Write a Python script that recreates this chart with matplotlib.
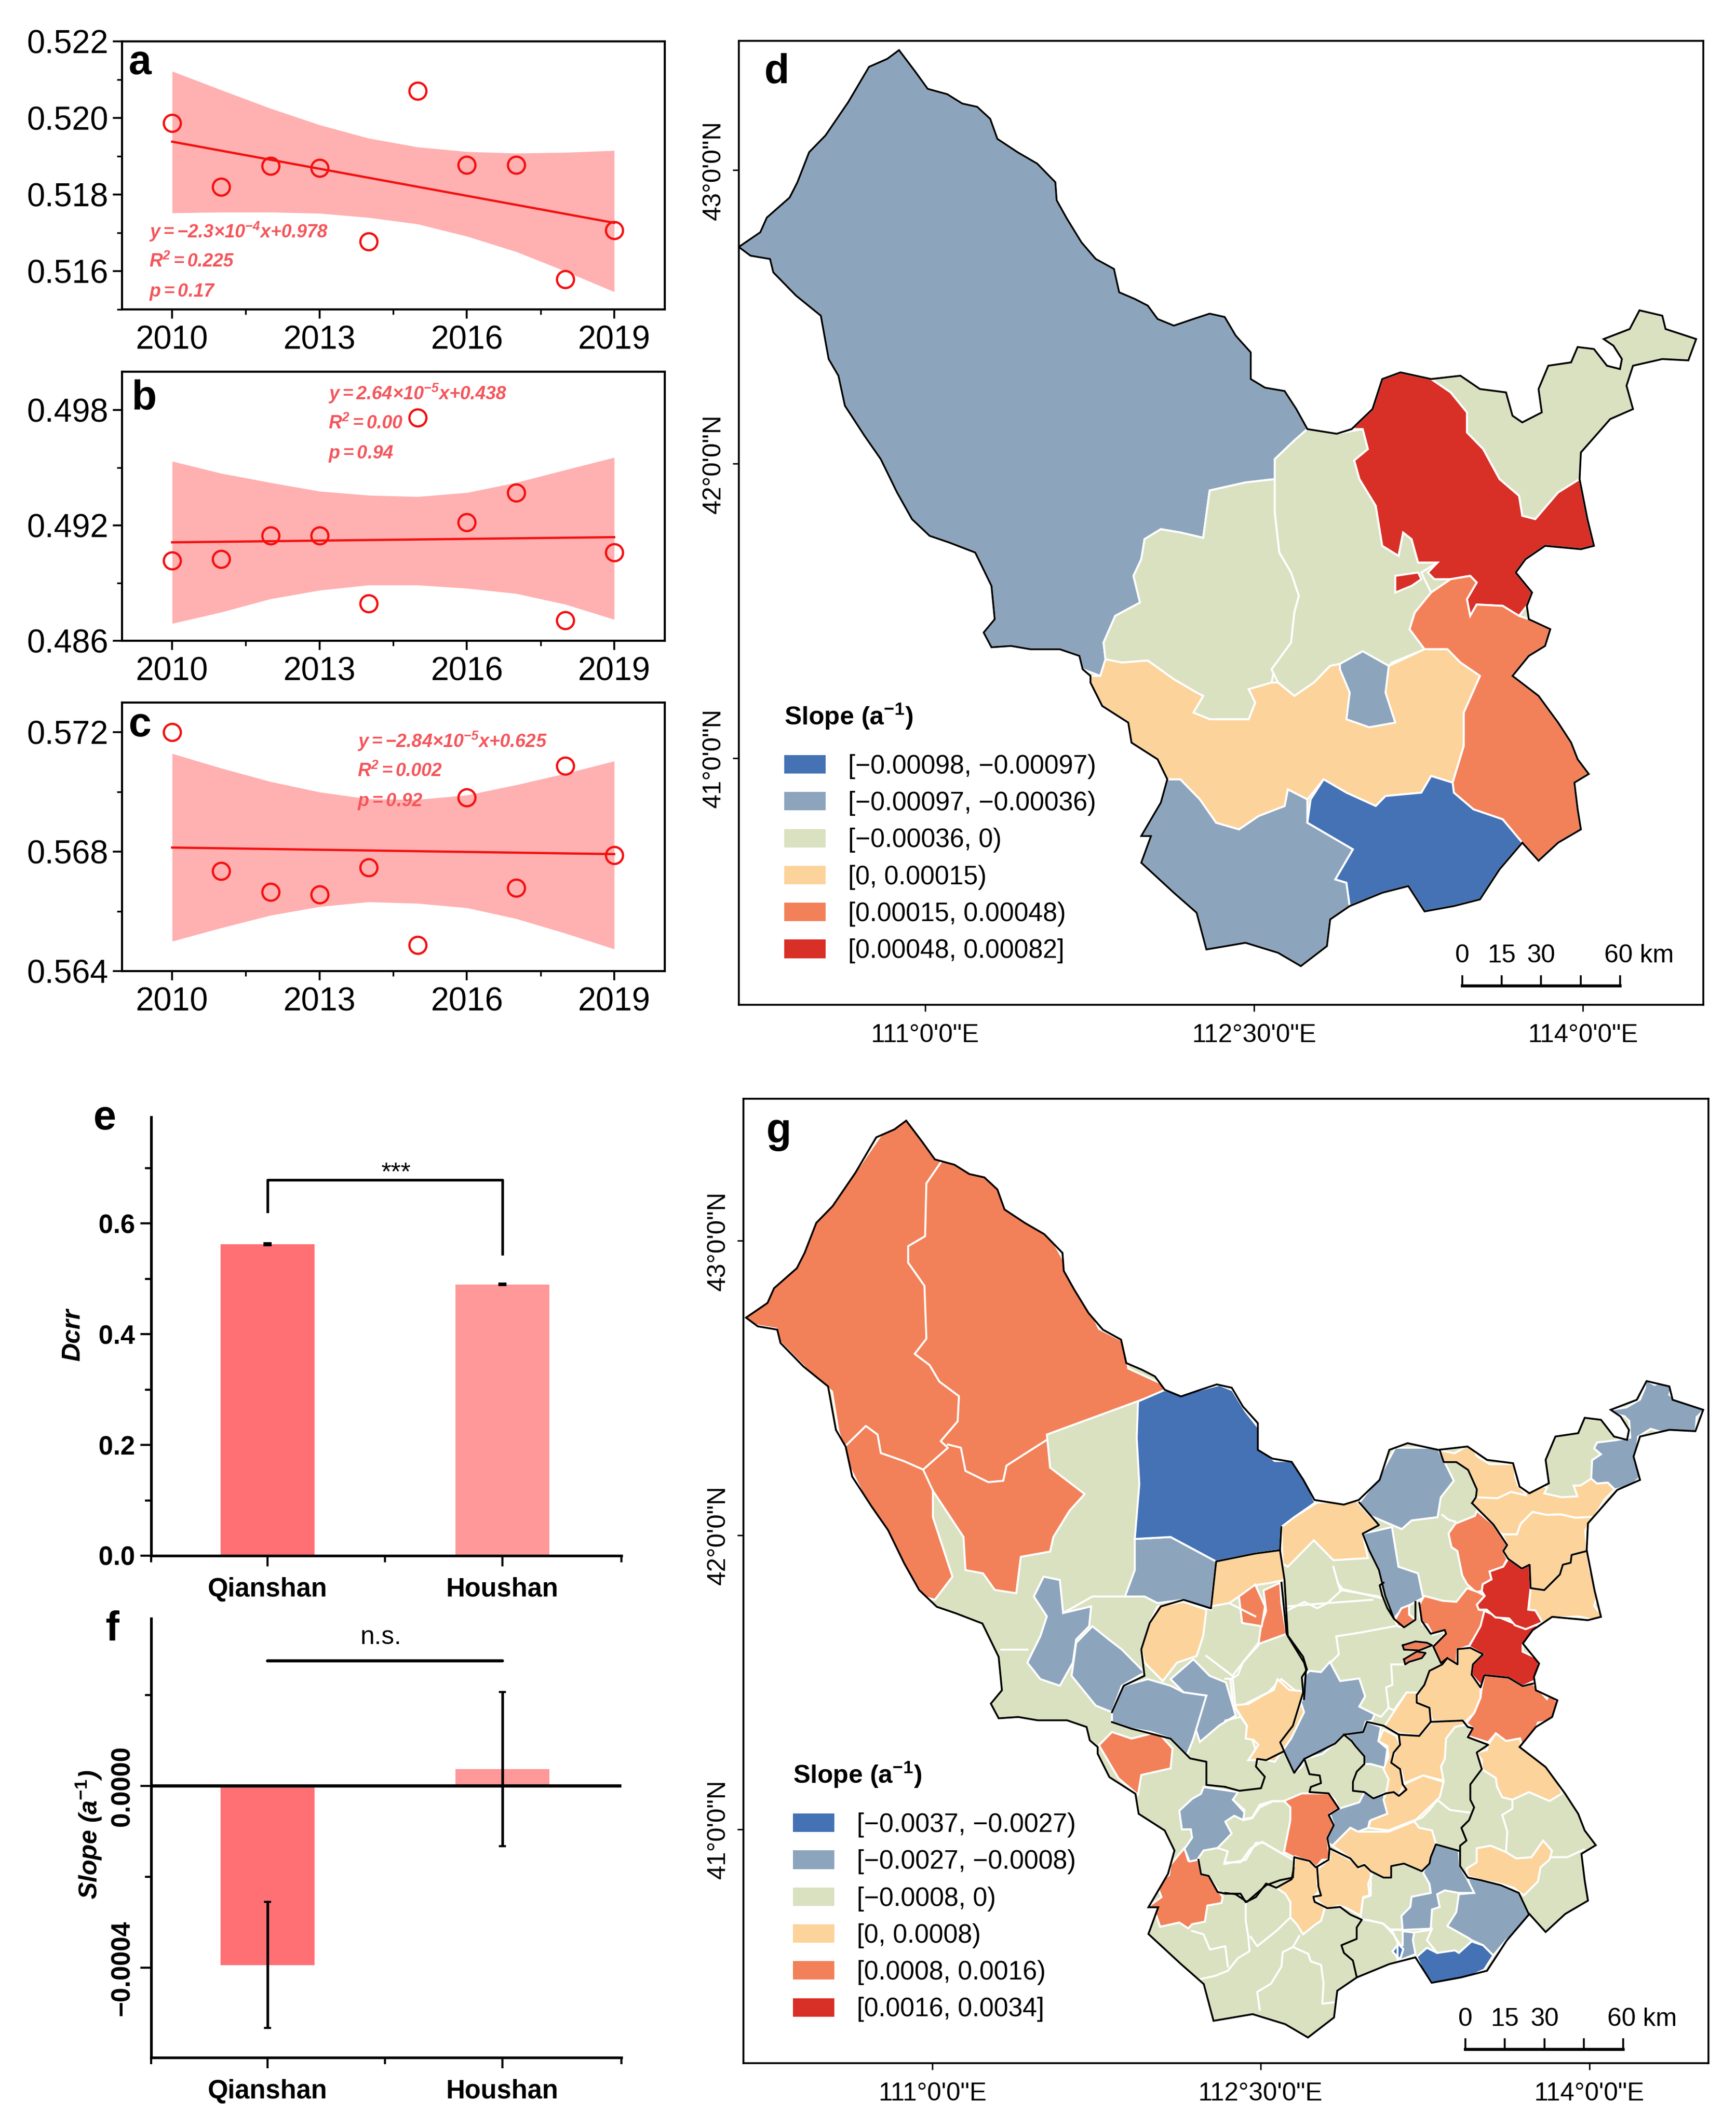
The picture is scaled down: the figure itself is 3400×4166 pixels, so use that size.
import numpy as np
import matplotlib
matplotlib.use("Agg")
import matplotlib.pyplot as plt
from matplotlib.patches import Polygon, Patch
from matplotlib.ticker import FixedFormatter

plt.rcParams.update({
    "font.family": ["Liberation Sans", "DejaVu Sans"],
    "mathtext.fontset": "custom",
    "mathtext.rm": "Liberation Sans",
    "mathtext.it": "Liberation Sans:italic",
    "mathtext.bf": "Liberation Sans:bold",
    "mathtext.bfit": "Liberation Sans:italic:bold",
    "mathtext.fallback": "stixsans",
})

W, H = 3400, 4166
YEARS = np.arange(2010, 2020)

A_PTS = [.51987, .5182, .51875, .5187, .51677, .52071, .51877, .51877, .51579, .51707]
A_FIT = [.51938, .51726]
A_UP = [.52122, .52073, .52025, .51982, .51947, .51924, .51912, .51908, .5191, .51915]
A_LO = [.51752, .51754, .51754, .51751, .5174, .51723, .51691, .51651, .516, .51546]

B_PTS = [.49018, .49025, .49146, .49146, .48794, .49762, .49216, .49371, .48707, .4906]
B_FIT = [.49112, .49139]
B_UP = [.49534, .49471, .49423, .49378, .49357, .4935, .49371, .49423, .49489, .49554]
B_LO = [.4869, .48749, .48818, .48863, .4889, .4889, .48873, .48846, .4879, .48711]

C_PTS = [.572, .56736, .56665, .56656, .56748, .56487, .56982, .56679, .57088, .56788]
C_FIT = [.56814, .56792]
C_UP = [.57129, .5708, .57035, .57, .56977, .56975, .5699, .57024, .57062, .57104]
C_LO = [.565, .56545, .56587, .56616, .56632, .56627, .56612, .56576, .56527, .56474]

A_TXT = [r"$\mathbfit{y{=}{-}2.3{\times}10^{-4}x{+}0.978}$", r"$\mathbfit{R^{2}{=}0.225}$", r"$\mathbfit{p{=}0.17}$"]
B_TXT = [r"$\mathbfit{y{=}2.64{\times}10^{-5}x{+}0.438}$", r"$\mathbfit{R^{2}{=}0.00}$", r"$\mathbfit{p{=}0.94}$"]
C_TXT = [r"$\mathbfit{y{=}{-}2.84{\times}10^{-5}x{+}0.625}$", r"$\mathbfit{R^{2}{=}0.002}$", r"$\mathbfit{p{=}0.92}$"]

GROUPS = ["Qianshan", "Houshan"]
E_VALS = [0.5625, 0.490]
E_ERR = [0.0015, 0.0012]
F_VALS = [-0.000394, 0.000037]
F_ERR = [0.000139, 0.00017]

COL_BLUE, COL_STEEL, COL_GREEN, COL_LO, COL_OR, COL_RED = "#4472B4", "#8CA5BD", "#DAE1C1", "#FCD39B", "#F28159", "#D82F27"
LEG_COLS = [COL_BLUE, COL_STEEL, COL_GREEN, COL_LO, COL_OR, COL_RED]
D_LEG = ["[−0.00098, −0.00097)", "[−0.00097, −0.00036)", "[−0.00036, 0)", "[0, 0.00015)", "[0.00015, 0.00048)", "[0.00048, 0.00082]"]
G_LEG = ["[−0.0037, −0.0027)", "[−0.0027, −0.0008)", "[−0.0008, 0)", "[0, 0.0008)", "[0.0008, 0.0016)", "[0.0016, 0.0034]"]

LON_LABELS = ["111°0'0\"E", "112°30'0\"E", "114°0'0\"E"]
LAT_LABELS = ["43°0'0\"N", "42°0'0\"N", "41°0'0\"N"]
D_LON_T, D_LAT_T = [338, 843, 1348], [217, 657, 1098]
G_LON_T, G_LAT_T = [334, 838, 1343], [232, 677, 1122]
SCALE_KM = [0, 15, 30, 45, 60]

# ---- map geometry, in the map grid units of panel d
OUTLINE = [(298,37),(322,68),(342,95),(372,103),(395,117),(418,122),(438,140),(449,170),(480,190),(510,207),(538,235),(540,262),(556,290),(578,325),(600,350),(628,365),(636,400),(660,410),(680,420),(695,440),(720,450),(750,440),(775,432),(798,437),(815,465),(838,490),(838,530),(860,543),(890,548),(908,575),(925,605),(970,612),(993,605),(1025,575),(1040,530),(1068,520),(1115,530),(1160,525),(1190,545),(1230,550),(1240,585),(1255,595),(1285,580),(1280,545),(1295,510),(1330,505),(1340,482),(1365,485),(1385,510),(1405,515),(1408,500),(1395,480),(1380,470),(1420,455),(1435,427),(1470,435),(1475,455),(1522,470),(1510,502),(1470,500),(1425,510),(1415,540),(1425,575),(1390,590),(1345,640),(1343,680),(1355,740),(1365,780),(1345,785),(1290,780),(1260,800),(1245,820),(1270,850),(1262,870),(1265,890),(1298,905),(1290,930),(1265,945),(1240,975),(1280,1005),(1310,1045),(1330,1075),(1340,1100),(1357,1122),(1335,1135),(1340,1175),(1345,1205),(1310,1225),(1280,1252),(1255,1225),(1220,1265),(1190,1310),(1150,1320),(1105,1328),(1080,1290),(1040,1300),(990,1320),(960,1340),(955,1380),(915,1410),(880,1390),(830,1375),(770,1385),(755,1330),(720,1300),(670,1255),(685,1215),(670,1215),(700,1165),(710,1130),(695,1100),(655,1075),(650,1045),(610,1020),(592,985),(592,975),(580,965),(575,945),(545,935),(500,935),(470,930),(440,932),(428,910),(445,890),(440,840),(415,790),(375,775),(345,765),(318,740),(295,700),(270,650),(245,615),(215,570),(205,525),(190,500),(178,435),(140,405),(105,370),(100,350),(70,345),(52,332),(85,310),(95,288),(130,258),(142,235),(160,190),(185,165),(220,115),(252,62),(280,50)]

D_STEEL = [
 [(298,37),(322,68),(342,95),(372,103),(395,117),(418,122),(438,140),(449,170),(480,190),(510,207),(538,235),(540,262),(556,290),(578,325),(600,350),(628,365),(636,400),(660,410),(680,420),(695,440),(720,450),(750,440),(775,432),(798,437),(815,465),(838,490),(838,530),(860,543),(890,548),(908,575),(925,605),(905,622),(875,650),(875,680),(830,685),(775,697),(765,768),(730,760),(700,755),(675,770),(670,800),(658,825),(668,865),(630,885),(612,925),(615,950),(607,975),(580,965),(575,945),(545,935),(500,935),(470,930),(440,932),(428,910),(445,890),(440,840),(415,790),(375,775),(345,765),(318,740),(295,700),(270,650),(245,615),(215,570),(205,525),(190,500),(178,435),(140,405),(105,370),(100,350),(70,345),(52,332),(85,310),(95,288),(130,258),(142,235),(160,190),(185,165),(220,115),(252,62),(280,50)],
 [(710,1130),(730,1130),(760,1160),(785,1195),(820,1205),(850,1185),(890,1170),(895,1145),(925,1160),(925,1195),(960,1215),(995,1235),(968,1280),(985,1285),(990,1320),(960,1340),(955,1380),(915,1410),(880,1390),(830,1375),(770,1385),(755,1330),(720,1300),(670,1255),(685,1215),(670,1215),(700,1165)],
]
D_GREEN = [
 [(875,680),(830,685),(775,697),(765,768),(730,760),(700,755),(675,770),(670,800),(658,825),(668,865),(630,885),(612,925),(615,950),(640,955),(680,952),(720,980),(755,1000),(765,1005),(750,1030),(775,1040),(835,1040),(845,1015),(835,995),(870,985),(875,960),(900,925),(905,880),(912,855),(900,820),(882,790),(875,730)],
 [(925,605),(970,612),(1010,605),(1018,635),(997,652),(1005,680),(1030,720),(1040,780),(1065,795),(1072,760),(1085,770),(1095,805),(1125,805),(1100,820),(1115,850),(1090,880),(1082,905),(1105,935),(1055,955),(1050,960),(1010,940),(975,957),(960,960),(935,985),(905,1005),(880,985),(870,965),(900,925),(905,880),(912,855),(900,820),(882,790),(875,730),(875,650),(905,622)],
 [(1115,530),(1160,525),(1190,545),(1230,550),(1240,585),(1255,595),(1285,580),(1280,545),(1295,510),(1330,505),(1340,482),(1365,485),(1385,510),(1405,515),(1408,500),(1395,480),(1380,470),(1420,455),(1435,427),(1470,435),(1475,455),(1522,470),(1510,502),(1470,500),(1425,510),(1415,540),(1425,575),(1390,590),(1345,640),(1343,680),(1310,700),(1275,740),(1255,735),(1250,705),(1220,680),(1195,635),(1170,610),(1170,580),(1145,550)],
]
D_RED = [
 [(993,605),(1025,575),(1040,530),(1068,520),(1115,530),(1145,550),(1170,580),(1170,610),(1195,635),(1220,680),(1250,705),(1255,735),(1275,740),(1310,700),(1343,680),(1355,740),(1365,780),(1345,785),(1290,780),(1260,800),(1245,820),(1270,850),(1262,870),(1250,885),(1225,870),(1185,868),(1175,885),(1170,860),(1185,835),(1175,825),(1145,830),(1120,830),(1110,820),(1125,805),(1095,805),(1085,770),(1072,760),(1065,795),(1040,780),(1030,720),(1005,680),(997,652),(1018,635),(1010,605)],
 [(1060,825),(1095,820),(1100,830),(1085,840),(1060,850)],
]
D_OR = [[(1145,830),(1175,825),(1185,835),(1170,860),(1175,885),(1185,868),(1225,870),(1250,885),(1265,890),(1298,905),(1290,930),(1265,945),(1240,975),(1280,1005),(1310,1045),(1330,1075),(1340,1100),(1357,1122),(1335,1135),(1340,1175),(1345,1205),(1310,1225),(1280,1252),(1255,1225),(1225,1190),(1180,1175),(1150,1150),(1148,1135),(1165,1080),(1165,1030),(1190,975),(1160,955),(1140,935),(1105,935),(1082,905),(1090,880),(1115,850)]]
D_LO = [[(592,975),(607,975),(615,950),(640,955),(680,952),(720,980),(755,1000),(765,1005),(750,1030),(775,1040),(835,1040),(845,1015),(835,995),(870,985),(880,985),(905,1005),(935,985),(960,960),(975,957),(1010,940),(1050,960),(1105,935),(1140,935),(1160,955),(1190,975),(1165,1030),(1165,1080),(1148,1135),(1115,1125),(1100,1150),(1045,1155),(1030,1170),(985,1150),(950,1130),(925,1160),(895,1145),(890,1170),(850,1185),(820,1205),(785,1195),(760,1160),(730,1130),(710,1130),(695,1100),(655,1075),(650,1045),(610,1020),(592,985)]]
D_STEEL2 = [[(975,957),(1010,938),(1050,960),(1045,1000),(1060,1045),(1020,1052),(985,1040),(990,1000),(975,965)]]
D_BLUE = [[(950,1130),(985,1150),(1030,1170),(1045,1155),(1100,1150),(1115,1125),(1148,1135),(1150,1150),(1180,1175),(1225,1190),(1255,1225),(1220,1265),(1190,1310),(1150,1320),(1105,1328),(1080,1290),(1040,1300),(990,1320),(985,1285),(968,1280),(995,1235),(960,1215),(925,1195),(930,1160)]]

# ---- panel g polygons. Each tracing sheet has its own origin and scale on the map grid of panel g.
S3 = lambda p: [(x, y) for x, y in p]
S5 = lambda p: [(784 + x*.392, 749.2 + y*.3862) for x, y in p]
S6 = lambda p: [(548.8 + x*.392, 1058.2 + y*.2562) for x, y in p]
S7 = lambda p: [(1081.9 + x*.3, 424.8 + y*.2956) for x, y in p]

G_OR_3 = [
 [(40,350),(90,300),(130,265),(150,210),(185,170),(225,115),(260,65),(296,40),(330,85),(345,100),(385,115),(420,125),(440,150),(450,180),(480,205),(515,225),(535,260),(560,300),(590,365),(630,385),(635,425),(690,450),(690,460),(510,525),(515,575),(568,615),(545,640),(520,680),(515,702),(470,710),(463,765),(430,760),(412,735),(385,730),(382,680),(335,610),(335,650),(365,740),(338,775),(320,770),(290,720),(265,670),(230,620),(205,570),(190,520),(180,460),(140,425),(100,385),(95,365),(65,360)],
 [(805,770),(830,752),(845,785),(840,815),(810,810)],
 [(590,995),(610,975),(640,985),(680,975),(703,1000),(700,1030),(655,1040),(650,1070),(620,1045)],
]
G_OR_5 = [
 [(665,145),(690,100),(720,88),(720,125),(745,145),(700,175),(675,170)],
 [(695,245),(745,230),(790,235),(810,245),(760,265),(700,262)],
 [(700,300),(750,270),(785,275),(770,295),(720,310),(705,320)],
 [(1015,362),(1110,372),(1165,405),(1205,395),(1260,455),(1270,435),(1305,470),(1290,540),(1225,548),(1200,620),(1160,632),(1155,610),(1100,620),(1060,590),(1030,625),(950,600),(970,570),(945,550),(975,510),(1000,450),(1005,410)],
 [(230,855),(300,825),(405,825),(430,850),(445,885),(405,910),(425,950),(400,1000),(408,1060),(405,1085),(380,1085),(355,1115),(330,1090),(270,1075),(230,1055),(255,930),(255,880)],
 [(150,30),(215,0),(220,80),(240,200),(130,240),(140,170),(160,110)],
]
G_OR_6 = [[(440,360),(455,435),(495,430),(505,515),(535,525),(590,650),(585,685),(530,700),(520,795),(470,810),(455,835),(420,800),(345,825),(330,760),(295,710),(350,650),(330,570),(380,520),(385,460)]]
G_OR_7 = [
 [(295,730),(380,800),(450,905),(430,935),(450,975),(430,1015),(360,1040),(370,1080),(325,1105),(320,1140),(290,1145),(245,1105),(220,1060),(195,935),(165,915),(150,845),(185,795),(285,755)],
 [(0,1210),(25,1165),(120,1190),(190,1195),(245,1125),(300,1145),(335,1165),(295,1210),(305,1235),(335,1240),(330,1300),(255,1420),(195,1440),(190,1520),(150,1485),(110,1510),(70,1420),(130,1360),(130,1345),(70,1365),(40,1310),(15,1310),(0,1260)],
]
G_BLUE_3 = [[(650,475),(690,458),(735,460),(775,450),(795,458),(815,490),(835,515),(835,545),(860,565),(890,565),(905,590),(922,628),(890,650),(870,665),(868,700),(830,705),(800,718),(770,717),(700,680),(645,683),(652,600),(648,530)]]
G_BLUE_5 = [
 [(655,1445),(678,1415),(697,1435),(685,1475)],
 [(750,1465),(790,1430),(830,1450),(900,1440),(915,1450),(965,1405),(1010,1420),(1050,1460),(1015,1515),(940,1550),(810,1568),(770,1510)],
]
G_STEEL_3 = [
 [(645,683),(700,680),(770,717),(762,790),(720,775),(680,780),(660,770),(630,770),(645,730)],
 [(505,740),(530,745),(535,795),(578,785),(575,815),(555,835),(550,870),(530,905),(500,895),(480,870),(500,830),(510,800),(490,770)],
 [(580,815),(605,835),(625,850),(660,885),(625,905),(610,945),(585,935),(548,890),(555,840)],
 [(735,865),(760,890),(785,900),(800,950),(775,965),(745,990),(735,960),(755,920),(720,915),(700,895)],
 [(610,945),(628,905),(665,895),(700,905),(720,915),(755,920),(735,985),(725,1010),(700,985),(670,975),(640,970),(610,960)],
 [(1045,545),(1110,545),(1135,595),(1115,620),(1110,650),(1070,655),(1055,668),(1000,645),(990,628),(1020,590)],
 [(995,675),(1040,665),(1050,725),(1080,735),(1088,772),(1076,778),(1055,790),(1043,803),(1030,770),(1020,730),(1005,700)],
]
G_STEEL_5 = [
 [(215,625),(265,560),(300,460),(305,370),(330,345),(375,350),(410,310),(450,385),(525,375),(548,445),(525,485),(585,515),(575,540),(550,545),(540,585),(465,595),(430,630),(380,670),(315,690),(300,720),(270,745),(235,670)],
 [(470,595),(540,585),(555,545),(610,565),(600,620),(635,650),(625,725),(570,710),(545,710),(545,680),(510,640),(495,620)],
 [(405,1020),(400,1000),(425,950),(410,905),(445,885),(525,860),(545,820),(580,845),(620,825),(635,905),(565,935),(560,960),(520,975),(490,960),(420,1030)],
 [(945,1155),(1000,1165),(1080,1185),(1150,1215),(1190,1300),(1180,1345),(1100,1400),(1050,1460),(1010,1420),(965,1400),(950,1390),(870,1345),(905,1290),(915,1220),(970,1215),(950,1160)],
 [(775,1135),(825,1025),(915,1050),(920,1110),(945,1155),(975,1215),(915,1215),(860,1205),(830,1220),(840,1270),(810,1280),(805,1355),(695,1360),(690,1305),(725,1270),(730,1230),(805,1215),(800,1180)],
 [(695,1365),(740,1370),(735,1400),(745,1455),(680,1480),(660,1445),(695,1420)],
]
G_STEEL_6 = [[(515,0),(650,30),(630,75),(675,150),(670,195),(635,170),(600,205),(625,275),(570,360),(515,375),(490,430),(460,440),(440,365),(470,300),(465,250),(430,250),(420,140),(470,70),(505,40)]]
G_STEEL_7 = [[(1160,60),(1205,85),(1245,68),(1295,90),(1280,135),(1320,165),(1380,170),(1460,212),(1420,250),(1415,320),(1385,330),(1300,320),(1270,335),(1185,310),(1120,350),(1115,420),(1105,480),(1138,550),(1080,605),(1000,620),(965,585),(910,590),(880,565),(885,470),(930,440),(895,410),(910,380),(1005,368),(1080,355),(1075,270),(1050,245),(985,230),(985,212),(1060,200),(1130,160),(1155,100)]]
G_LO_3 = [
 [(770,717),(830,705),(868,700),(875,745),(850,750),(835,752),(805,770),(790,780),(762,785)],
 [(680,785),(720,778),(755,790),(750,830),(740,860),(710,870),(688,898),(660,870),(655,850),(668,810)],
 [(870,665),(890,650),(925,628),(985,625),(1020,662),(995,675),(1003,712),(950,715),(920,685),(880,725),(872,720)],
]
G_LO_5 = [
 [(910,260),(960,255),(1010,280),(970,320),(965,360),(1000,410),(1000,450),(975,510),(940,545),(875,545),(810,540),(800,490),(750,470),(750,440),(780,400),(800,345),(850,320),(870,295),(910,320)],
 [(1030,635),(1060,590),(1100,620),(1155,610),(1160,635),(1215,680),(1295,760),(1320,825),(1270,855),(1190,820),(1125,850),(1085,840),(1065,800),(1060,765),(1005,730),(1005,695),(985,665),(1025,655)],
 [(625,560),(710,430),(755,430),(750,470),(800,490),(805,545),(760,600),(680,590),(625,565)],
 [(680,590),(760,600),(810,545),(930,540),(970,570),(945,555),(900,565),(865,610),(860,690),(845,720),(855,775),(775,755),(700,785),(690,735),(650,705),(665,660),(685,635)],
 [(620,575),(670,600),(685,635),(660,665),(650,705),(685,730),(695,790),(710,810),(680,835),(660,820),(630,825),(640,770),(620,730),(640,680),(635,640),(600,620)],
 [(630,825),(660,820),(680,835),(700,790),(775,755),(855,780),(840,840),(800,890),(770,920),(715,940),(640,970),(560,960),(570,930),(635,905),(620,850)],
 [(420,1030),(490,960),(520,975),(640,975),(715,945),(740,935),(760,960),(810,970),(825,1020),(805,1075),(800,1100),(770,1130),(700,1100),(650,1110),(650,1155),(620,1155),(570,1130),(545,1105),(520,1115),(490,1080)],
 [(35,480),(90,475),(150,440),(190,420),(205,378),(250,420),(305,425),(290,490),(265,560),(215,625),(230,660),(160,695),(90,695),(130,635),(110,615),(80,610),(85,560)],
 [(945,1120),(985,1095),(985,1040),(1040,1030),(1100,1055),(1140,1080),(1200,1075),(1245,1010),(1280,1050),(1270,1085),(1235,1115),(1225,1170),(1170,1225),(1130,1195),(1080,1180),(1000,1165),(950,1150)],
]
G_LO_6 = [
 [(875,410),(935,445),(960,475),(965,620),(945,650),(990,715),(975,790),(950,815),(905,870),(880,810),(855,770),(855,680),(835,630),(800,595),(860,545),(868,480)],
 [(965,480),(1010,425),(1005,360),(1100,440),(1125,480),(1145,455),(1175,515),(1160,570),(1165,640),(1140,650),(1130,760),(1075,715),(1045,700),(1000,720),(945,650),(970,630),(960,560)],
]
G_LO_7 = [
 [(105,420),(180,435),(245,398),(275,405),(295,450),(360,490),(490,490),(490,550),(505,600),(545,640),(600,597),(655,610),(640,640),(730,660),(810,655),(790,600),(825,600),(880,565),(910,590),(965,585),(1000,620),(950,670),(895,760),(800,765),(725,748),(650,750),(580,735),(520,795),(500,850),(425,850),(400,830),(380,800),(270,690),(290,660),(295,620),(250,520),(190,480),(125,480)],
 [(425,850),(500,850),(520,795),(580,735),(650,750),(725,748),(800,765),(895,760),(850,830),(858,935),(780,955),(775,995),(735,1005),(720,1055),(640,1135),(570,1125),(565,1005),(525,1025),(455,975),(430,935),(450,905)],
 [(858,935),(875,1040),(905,1090),(895,1130),(912,1165),(895,1215),(935,1265),(905,1290),(815,1270),(720,1275),(630,1300),(595,1240),(560,1235),(570,1125),(640,1135),(720,1055),(735,1005),(775,995),(780,955)],
]
G_RED_5 = [[(1015,110),(1060,130),(1180,180),(1240,150),(1165,240),(1165,270),(1230,300),(1220,380),(1165,405),(1110,372),(1015,362),(1005,405),(965,360),(970,320),(1010,280),(955,250),(1000,170)]]
G_RED_7 = [[(455,975),(525,1025),(565,1005),(570,1125),(558,1235),(595,1240),(630,1300),(545,1335),(490,1315),(460,1280),(390,1275),(345,1235),(305,1235),(295,1210),(335,1165),(320,1140),(325,1105),(370,1080),(360,1040),(430,1015)]]
G_LO_3B = [[(870,895),(895,915),(905,945),(885,985),(860,1020),(835,1015),(820,970),(800,940),(850,915)]]

# green-to-green and orange-to-orange boundaries
G_WHITE_3 = [
 [(348,112),(325,145),(323,225),(297,240),(297,265),(322,300),(325,380),(307,403),(330,420),(345,445),(375,467),(373,505),(347,535),(358,545),(320,578),(290,565),(255,553),(250,525),(232,512),(200,543)],
 [(358,540),(378,545),(385,580),(420,597),(443,595),(448,572),(510,533)],
 [(320,578),(335,610)],
 [(630,770),(580,770),(535,795)], [(440,850),(480,850)], [(790,780),(830,800)],
 [(755,860),(795,890),(835,840)], [(795,890),(800,940)],
 [(950,725),(960,760),(1020,770)], [(880,785),(940,780),(1010,775)],
]
G_WHITE_5 = [
 [(240,110),(310,75),(360,100),(400,80),(460,25),(610,60)], [(460,25),(440,0)],
 [(435,210),(530,195),(665,170)], [(435,210),(445,280),(415,310)],
 [(650,320),(695,320)], [(650,320),(655,400),(630,410),(640,490),(610,525),(585,515)], [(640,490),(660,500),(710,430)],
 [(130,245),(70,310),(50,360),(20,380),(30,470)], [(20,375),(0,375)], [(0,540),(60,525),(85,560)],
 [(1125,850),(1125,885),(1085,910),(1105,975),(1100,1050)], [(1280,1075),(1340,1075),(1405,1045)],
 [(830,850),(880,890),(955,900)], [(745,930),(830,850)],
 [(0,1095),(60,1095),(100,1040),(145,1015),(230,1065)], [(225,855),(185,855),(135,870),(105,920),(75,925)], [(30,850),(75,890)],
 [(570,1130),(570,1225),(540,1235),(530,1310)],
 [(555,1320),(620,1335),(660,1380),(690,1425)], [(650,1360),(695,1360)], [(810,1355),(790,1400),(830,1450)], [(800,1360),(740,1370)],
]
G_WHITE_6 = [
 [(680,680),(680,790),(690,880),(695,970),(650,1010),(610,1085),(560,1115),(500,1135)],
 [(855,770),(800,850),(725,940),(700,885)],
 [(470,850),(515,870),(540,960),(600,940),(610,1060)],
 [(890,880),(865,945),(825,975),(820,1060),(780,1160),(725,1210),(735,1315)],
 [(865,945),(925,985),(935,1030),(975,1050),(985,1160),(980,1280),(1035,1270)],
 [(1135,780),(1215,805),(1255,850),(1275,920),(1275,1030)], [(1250,840),(1290,840)],
 [(830,85),(785,85),(735,120),(705,185),(670,195)],
 [(570,360),(610,380),(595,455),(680,430),(720,330),(750,330),(865,430)],
]
G_WHITE_7 = [[(290,660),(400,665),(470,632),(545,650)], [(118,750),(150,775),(185,785)]]
G_BLACK_3 = [
 [(870,665),(868,700),(875,745),(880,830),(905,870),(908,880),(905,925)],
 [(610,945),(628,905),(660,890),(655,850),(668,810),(685,785),(720,775),(762,788),(770,717),(830,705),(868,700)],
 [(610,960),(640,970),(700,985),(730,1015),(755,1020),(755,1055),(784,1058)],
 [(990,628),(1020,662),(995,675),(1005,700),(1020,730),(1030,770),(1043,803)],
]
G_BLACK_5 = [
 [(220,0),(240,200),(305,290),(320,340),(300,370),(305,430),(265,560),(215,625),(235,670),(270,745),(310,690),(430,630),(465,595),(540,585),(555,545),(620,560),(680,595),(760,600),(805,545),(930,540),(950,565),(970,570),(950,605),(1030,635),(985,665),(1005,730),(960,790),(960,850),(975,880),(955,930),(925,960),(945,1010),(920,1030),(920,1110),(950,1155),(1000,1165),(1080,1185),(1150,1215),(1190,1300)],
 [(805,545),(800,490),(750,470),(750,440),(780,400),(800,345),(850,320),(870,295),(910,320),(910,260),(960,255),(1010,280),(970,320),(965,360),(1000,410),(1015,362),(1110,372),(1165,405),(1205,395)],
 [(660,140),(635,100),(615,50),(605,10),(620,0)], [(745,75),(745,145),(700,175),(665,145)],
 [(760,80),(770,150),(805,200),(860,185),(865,200),(815,250),(845,315),(870,295)],
 [(695,245),(745,230),(790,235),(810,245),(760,265),(700,262),(695,245)], [(700,300),(750,270),(785,275),(770,295),(720,310),(705,320),(700,300)],
 [(680,595),(685,635),(660,665),(650,705),(685,730),(695,790),(710,810),(680,835),(660,820),(630,825),(580,845),(545,820),(500,815),(500,780),(515,740),(545,710),(545,680),(510,640),(495,620),(465,595)],
 [(310,690),(330,750),(370,755),(375,785),(335,800),(330,820),(405,825),(445,885),(405,910),(425,950),(400,1000),(408,1040),(490,1080),(520,1115),(545,1105),(570,1130),(620,1155),(650,1155),(650,1110),(700,1100),(770,1130),(800,1100),(805,1075),(825,1025),(915,1050)],
 [(408,1040),(405,1085),(355,1115),(330,1090),(270,1075),(265,1155),(215,1165),(160,1185),(125,1215),(85,1250),(40,1220),(0,1215)],
 [(0,800),(55,815),(140,805),(155,760),(120,720),(125,690),(160,695),(230,660)],
 [(360,1115),(365,1190),(375,1225),(345,1230),(350,1250),(400,1275),(450,1270),(490,1300),(535,1320),(515,1350),(515,1395),(455,1420),(465,1450),(500,1480),(515,1545)],
]
G_BLACK_6 = [[(868,480),(860,545),(800,595),(760,570),(720,650),(680,680),(660,630),(600,630),(570,620),(535,525),(505,515),(495,430)]]
G_BLACK_7 = [
 [(270,690),(290,660),(295,620),(250,520),(190,480),(125,480),(105,420)],
 [(270,690),(380,800),(450,905),(430,935),(455,975),(525,1025),(565,1005),(570,1125),(640,1135),(720,1055),(735,1005),(775,995),(780,955),(858,935)],
]

fig = plt.figure(figsize=(W/100, H/100), dpi=100)


def axpx(x0, x1, y0, y1):
    return fig.add_axes([x0/W, 1-y1/H, (x1-x0)/W, (y1-y0)/H])


SCAT = [("a", 81, 606, A_PTS, A_FIT, A_UP, A_LO, A_TXT, (.012, .918), (.05, [.289, .177, .065]), (0.515, 0.522), [.516, .518, .52, .522], [.515, .517, .519, .521]),
        ("b", 728, 1255, B_PTS, B_FIT, B_UP, B_LO, B_TXT, (.018, .90), (.38, [.918, .807, .695]), (0.486, 0.5), [.486, .492, .498], [.489, .495]),
        ("c", 1376, 1902, C_PTS, C_FIT, C_UP, C_LO, C_TXT, (.012, .915), (.434, [.856, .744, .632]), (0.564, 0.573), [.564, .568, .572], [.566, .57])]
for lab, t, b, pts, fit, up, lo, txt, lpos, tpos, ylim, yt, ymt in SCAT:
    ax = axpx(239, 1302, t, b)
    ax.fill_between(YEARS, lo, up, color="#FFB0B1", lw=0)
    ax.plot([YEARS[0], YEARS[-1]], fit, color="#F41010", lw=3.2)
    ax.plot(YEARS, pts, "o", mfc="none", mec="#F41010", mew=3.2, ms=24, clip_on=False, zorder=5)
    ax.set_xlim(2008.98, 2020.03)
    ax.set_ylim(*ylim)
    ax.set_xticks([2010, 2013, 2016, 2019])
    ax.set_xticks([2011.5, 2014.5, 2017.5], minor=True)
    ax.set_yticks(yt)
    ax.yaxis.set_major_formatter(FixedFormatter([f"{v:.3f}" for v in yt]))
    ax.set_yticks(ymt, minor=True)
    ax.tick_params(which="major", length=13, width=2.6, labelsize=46, pad=6)
    ax.tick_params(axis="x", which="major", pad=9)
    ax.tick_params(which="minor", length=7, width=2.4)
    for s in ax.spines.values():
        s.set_linewidth(3)
    ax.text(lpos[0], lpos[1], lab, transform=ax.transAxes, fontsize=58, fontweight="bold", va="center")
    for s, y in zip(txt, tpos[1]):
        ax.text(tpos[0], y, s, transform=ax.transAxes, fontsize=26, color="#F4555A", va="center")

# ---- panel e
axe = axpx(296, 1217, 2188, 3047)
axe.bar([1, 2], E_VALS, width=0.4, color=["#FF7074", "#FF9898"])
axe.errorbar([1, 2], E_VALS, yerr=E_ERR, fmt="none", ecolor="k", elinewidth=3, capsize=6, capthick=3)
axe.plot([1, 1, 2, 2], [.6215, .679, .679, .545], color="k", lw=3.8)
axe.text(1.546, .69, "***", ha="center", va="center", fontsize=36)
axe.set_xlim(0.505, 2.506)
axe.set_ylim(0, 0.792)
axe.set_yticks([0, .2, .4, .6])
axe.yaxis.set_major_formatter(FixedFormatter(["0.0", "0.2", "0.4", "0.6"]))
axe.set_yticks([.1, .3, .5, .7], minor=True)

# ---- panel f
axf = axpx(296, 1217, 3170, 4030)
axf.bar([1, 2], F_VALS, width=0.4, color=["#FF7074", "#FF9898"])
axf.errorbar([1, 2], F_VALS, yerr=F_ERR, fmt="none", ecolor="k", elinewidth=3.8, capsize=5, capthick=3)
axf.axhline(0, color="k", lw=4.6)
axf.plot([1, 2], [.000276, .000276], color="k", lw=4.4, solid_capstyle="round")
axf.text(1.483, .000327, "n.s.", ha="center", va="center", fontsize=36)
axf.set_xlim(0.505, 2.506)
axf.set_ylim(-.000598, .000369)
axf.set_yticks([-.0004, 0])
axf.yaxis.set_major_formatter(FixedFormatter(["−0.0004", "0.0000"]))
axf.set_yticks([-.0002, .0002], minor=True)
for lab in axf.get_yticklabels():
    lab.set_rotation(90)
    lab.set_va("center")

for ax in (axe, axf):
    ax.spines["top"].set_visible(False)
    ax.spines["right"].set_visible(False)
    ax.spines["left"].set_linewidth(3.8)
    ax.spines["bottom"].set_linewidth(3.8)
    ax.set_xticks([1, 2])
    ax.set_xticklabels(GROUPS)
    ax.set_xticks([0.505, 1.5, 2.506], minor=True)
    ax.tick_params(which="major", length=15, width=3, labelsize=37, pad=8)
    ax.tick_params(axis="x", which="major", pad=15)
    ax.tick_params(which="minor", length=9, width=3)
    for lab in ax.get_xticklabels() + ax.get_yticklabels():
        lab.set_fontweight("bold")

fig.text(205/W, 1-2191/H, "e", fontsize=58, fontweight="bold", ha="center", va="center")
fig.text(220/W, 1-3192/H, "f", fontsize=58, fontweight="bold", ha="center", va="center")
fig.text(143/W, 1-2615/H, "Dcrr", fontsize=36, fontweight="bold", style="italic", rotation=90, ha="center", va="center")
fig.text(174/W, 1-3593/H, r"Slope (a$\mathbf{^{-1}}$)", fontsize=36, fontweight="bold", style="italic", rotation=90, ha="center", va="center")


# ---- maps
def draw_map(ax, outline, layers, xlim, ylim, xt, yt, leg, leg_xy, lab_xy, lab, bar_x0, bar_y):
    ax.set_xlim(*xlim)
    ax.set_ylim(*ylim)
    clip = Polygon(outline, closed=True, fc=COL_GREEN, ec="none", zorder=1)
    ax.add_patch(clip)
    for color, polys in layers:
        for p in polys:
            pg = Polygon(p, closed=True, fc=color, ec="white", lw=2.8, zorder=2)
            ax.add_patch(pg)
            pg.set_clip_path(clip)
    ax.add_patch(Polygon(outline, closed=True, fc="none", ec="k", lw=2.6, zorder=6))
    ax.set_xticks(xt)
    ax.set_xticklabels(LON_LABELS)
    ax.set_yticks(yt)
    ax.set_yticklabels(LAT_LABELS, rotation=90, va="center")
    ax.tick_params(length=9, width=2, labelsize=36, pad=10)
    ax.tick_params(axis="x", pad=18)
    for s in ax.spines.values():
        s.set_linewidth(2.6)
    ax.text(lab_xy[0], lab_xy[1], lab, fontsize=58, fontweight="bold", ha="center", va="center")
    handles = [Patch(fc=c, ec="none", label=l) for c, l in zip(LEG_COLS, leg)]
    lg = ax.legend(handles=handles, loc="upper left", bbox_to_anchor=leg_xy, bbox_transform=ax.transData,
                   frameon=False, borderpad=0, borderaxespad=0, fontsize=36.5, handlelength=1.6, handleheight=0.72,
                   handletextpad=0.86, labelspacing=0.46, title=r"Slope (a$\mathbf{^{-1}}$)", alignment="left",
                   title_fontproperties={"weight": "bold", "size": 36})
    lg.set_zorder(8)
    lg._legend_box.sep = 32
    km = np.array(SCALE_KM)
    unit = 242/60
    xs = bar_x0 + km*unit
    ax.plot([xs[0], xs[-1]], [bar_y, bar_y], color="k", lw=4.2, zorder=7)
    for x in xs:
        ax.plot([x, x], [bar_y-15, bar_y], color="k", lw=2.6, zorder=7)
    for v, x in zip(SCALE_KM[:3], xs[:3]):
        ax.text(x, bar_y-28, str(v), fontsize=36, ha="center", va="bottom")
    ax.text(xs[4]-24, bar_y-28, "60 km", fontsize=36, ha="left", va="bottom")


axd = axpx(1447, 3336, 80, 1968)
draw_map(axd, OUTLINE,
         [(COL_STEEL, D_STEEL), (COL_GREEN, D_GREEN), (COL_RED, D_RED), (COL_OR, D_OR), (COL_LO, D_LO),
          (COL_STEEL, D_STEEL2), (COL_BLUE, D_BLUE)],
         (52, 1533), (1468, 23), D_LON_T, D_LAT_T, D_LEG, (122, 1014), (110, 70), "d", 1163, 1440)

OUTLINE_G = [(x-4, (y-217)*1.0102+232) for x, y in OUTLINE]
layers_g = [
    (COL_OR, [S3(p) for p in G_OR_3] + [S5(p) for p in G_OR_5] + [S6(p) for p in G_OR_6] + [S7(p) for p in G_OR_7]),
    (COL_STEEL, [S3(p) for p in G_STEEL_3] + [S5(p) for p in G_STEEL_5] + [S6(p) for p in G_STEEL_6] + [S7(p) for p in G_STEEL_7]),
    (COL_BLUE, [S3(p) for p in G_BLUE_3] + [S5(p) for p in G_BLUE_5]),
    (COL_LO, [S3(p) for p in G_LO_3 + G_LO_3B] + [S5(p) for p in G_LO_5] + [S6(p) for p in G_LO_6] + [S7(p) for p in G_LO_7]),
    (COL_RED, [S5(p) for p in G_RED_5] + [S7(p) for p in G_RED_7]),
    (COL_OR, [S3(G_OR_3[1])]),
    (COL_OR, [S5(p) for p in G_OR_5[:3]]),
    (COL_BLUE, [S5(G_BLUE_5[0])]),
]
axg = axpx(1456, 3346, 2152, 4041)
draw_map(axg, OUTLINE_G, layers_g, (44, 1526), (1476, 17), G_LON_T, G_LAT_T, G_LEG, (120, 1018), (98, 67), "g", 1153, 1455)
for lines, conv, col, lw, z in [
    (G_WHITE_3, S3, "white", 2.8, 3), (G_WHITE_5, S5, "white", 2.8, 3), (G_WHITE_6, S6, "white", 2.8, 3), (G_WHITE_7, S7, "white", 2.8, 3),
    (G_BLACK_3, S3, "k", 2.6, 4), (G_BLACK_5, S5, "k", 2.6, 4), (G_BLACK_6, S6, "k", 2.6, 4), (G_BLACK_7, S7, "k", 2.6, 4)]:
    for l in lines:
        a = np.array(conv(l))
        axg.plot(a[:, 0], a[:, 1], color=col, lw=lw, zorder=z, solid_joinstyle="round")
axg.set_xlim(44, 1526)
axg.set_ylim(1476, 17)

fig.savefig("out.png", dpi=100, facecolor="white")
